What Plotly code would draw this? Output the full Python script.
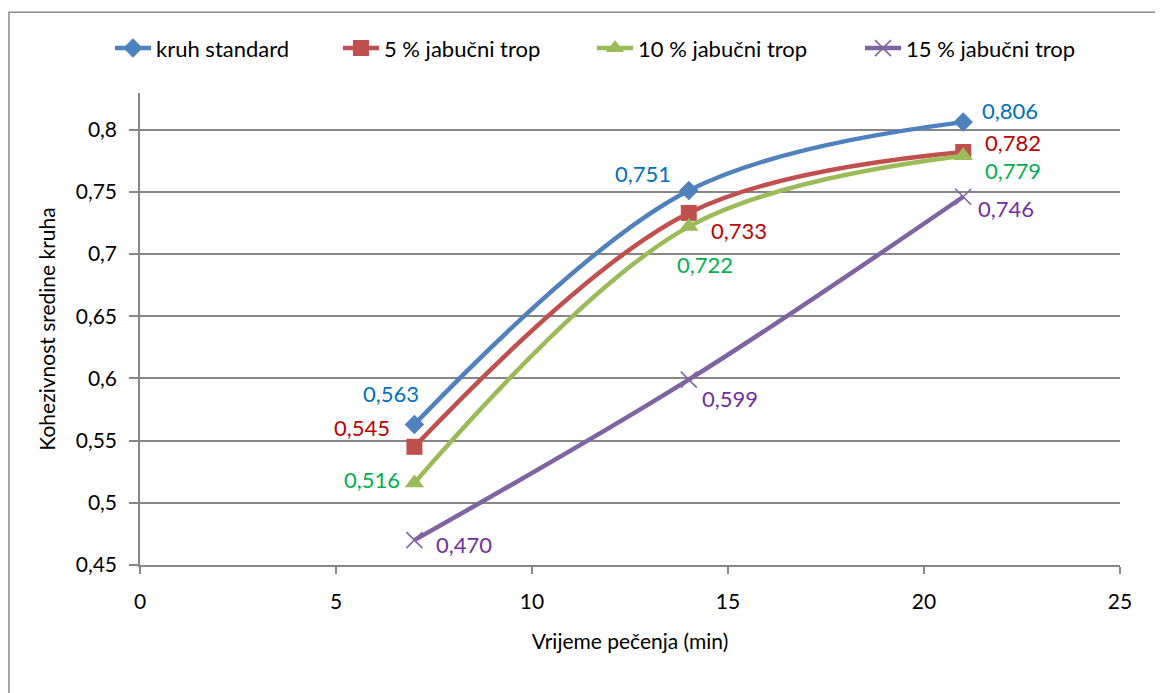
import plotly.graph_objects as go

# ---- data ----
time_min = [7, 14, 21]
series_names = ["kruh standard", "5 % jabučni trop", "10 % jabučni trop", "15 % jabučni trop"]
kruh_standard = [0.563, 0.751, 0.806]
trop_5 = [0.545, 0.733, 0.782]
trop_10 = [0.516, 0.722, 0.779]
trop_15 = [0.470, 0.599, 0.746]
x_ticks = [0, 5, 10, 15, 20, 25]
y_ticks = [0.45, 0.5, 0.55, 0.6, 0.65, 0.7, 0.75, 0.8]
x_title = "Vrijeme pečenja (min)"
y_title = "Kohezivnost sredine kruha"

series_values = [kruh_standard, trop_5, trop_10, trop_15]

# ---- style ----
FONT = "Lato, 'Open Sans', sans-serif"
line_colors = ["#4F81BD", "#C0504D", "#9BBB59", "#8064A2"]
label_colors = ["#0070C0", "#C00000", "#00B050", "#7030A0"]
symbols = ["diamond", "square", "triangle-up", "x-thin"]
marker_sizes = [15, 16, 17, 16]
label_shifts = [
    [(-23, 31), (-46, 17), (47, 12)],
    [(-52, 19), (50, -18), (50, 9)],
    [(-42, 3), (16, -38), (50, -15)],
    [(50, -4), (41, -19), (43, -12)],
]
legend_ids = ["legend", "legend2", "legend3", "legend4"]
legend_x = [-0.0306, 0.2020, 0.4612, 0.7347]

fig = go.Figure()
for i, (name, vals) in enumerate(zip(series_names, series_values)):
    if symbols[i] == "x-thin":
        marker = dict(symbol="x-thin", size=marker_sizes[i],
                      line=dict(color=line_colors[i], width=1.6), color=line_colors[i])
    else:
        marker = dict(symbol=symbols[i], size=marker_sizes[i], color=line_colors[i],
                      line=dict(width=0))
    fig.add_trace(go.Scatter(
        x=time_min, y=vals, name=name, mode="lines+markers",
        line=dict(color=line_colors[i], width=4.5, shape="spline", smoothing=1.0),
        marker=marker, legend=legend_ids[i],
    ))
    for j, (xv, yv) in enumerate(zip(time_min, vals)):
        dx, dy = label_shifts[i][j]
        fig.add_annotation(
            x=xv, y=yv, xref="x", yref="y", showarrow=False,
            text=f"{yv:.3f}".replace(".", ","),
            xshift=dx, yshift=dy,
            font=dict(family=FONT, size=22, color=label_colors[i]),
        )

# outer chart border (left/top visible)
fig.add_shape(type="rect", xref="paper", yref="paper",
              x0=-0.1337, x1=1.06, y0=-0.32, y1=1.1709,
              line=dict(color="#8C8C8C", width=1.5), fillcolor="rgba(0,0,0,0)", layer="below")

axis_color = "#868686"
legend_common = dict(orientation="h", y=1.0947, xanchor="left", yanchor="middle",
                     font=dict(family=FONT, size=22, color="black"),
                     itemwidth=36, bgcolor="rgba(0,0,0,0)", borderwidth=0)
layout_legends = {lid: dict(x=lx, **legend_common) for lid, lx in zip(legend_ids, legend_x)}

fig.update_layout(
    width=1163, height=693,
    margin=dict(l=132, r=51, t=85, b=136, autoexpand=False),
    paper_bgcolor="white", plot_bgcolor="white",
    separators=", ",
    font=dict(family=FONT, size=21, color="black"),
    showlegend=True,
    xaxis=dict(range=[0, 25], tickmode="array", tickvals=x_ticks,
               showgrid=False, zeroline=False, showline=True, linecolor=axis_color, linewidth=1.5,
               ticks="outside", ticklen=7, tickwidth=1.5, tickcolor=axis_color,
               ticklabelstandoff=10,
               tickfont=dict(family=FONT, size=21, color="black"),
               title=dict(text=x_title, font=dict(family=FONT, size=21, color="black"), standoff=22)),
    yaxis=dict(range=[0.45, 0.8294], tickmode="array", tickvals=y_ticks,
               showgrid=True, gridcolor=axis_color, gridwidth=1.5,
               zeroline=False, showline=True, linecolor=axis_color, linewidth=1.5,
               ticks="outside", ticklen=9, tickwidth=1.5, tickcolor=axis_color,
               ticklabelstandoff=8,
               tickfont=dict(family=FONT, size=21, color="black"),
               title=dict(text=y_title, font=dict(family=FONT, size=21, color="black"), standoff=14)),
    **layout_legends,
)

fig.write_html("out.html")
